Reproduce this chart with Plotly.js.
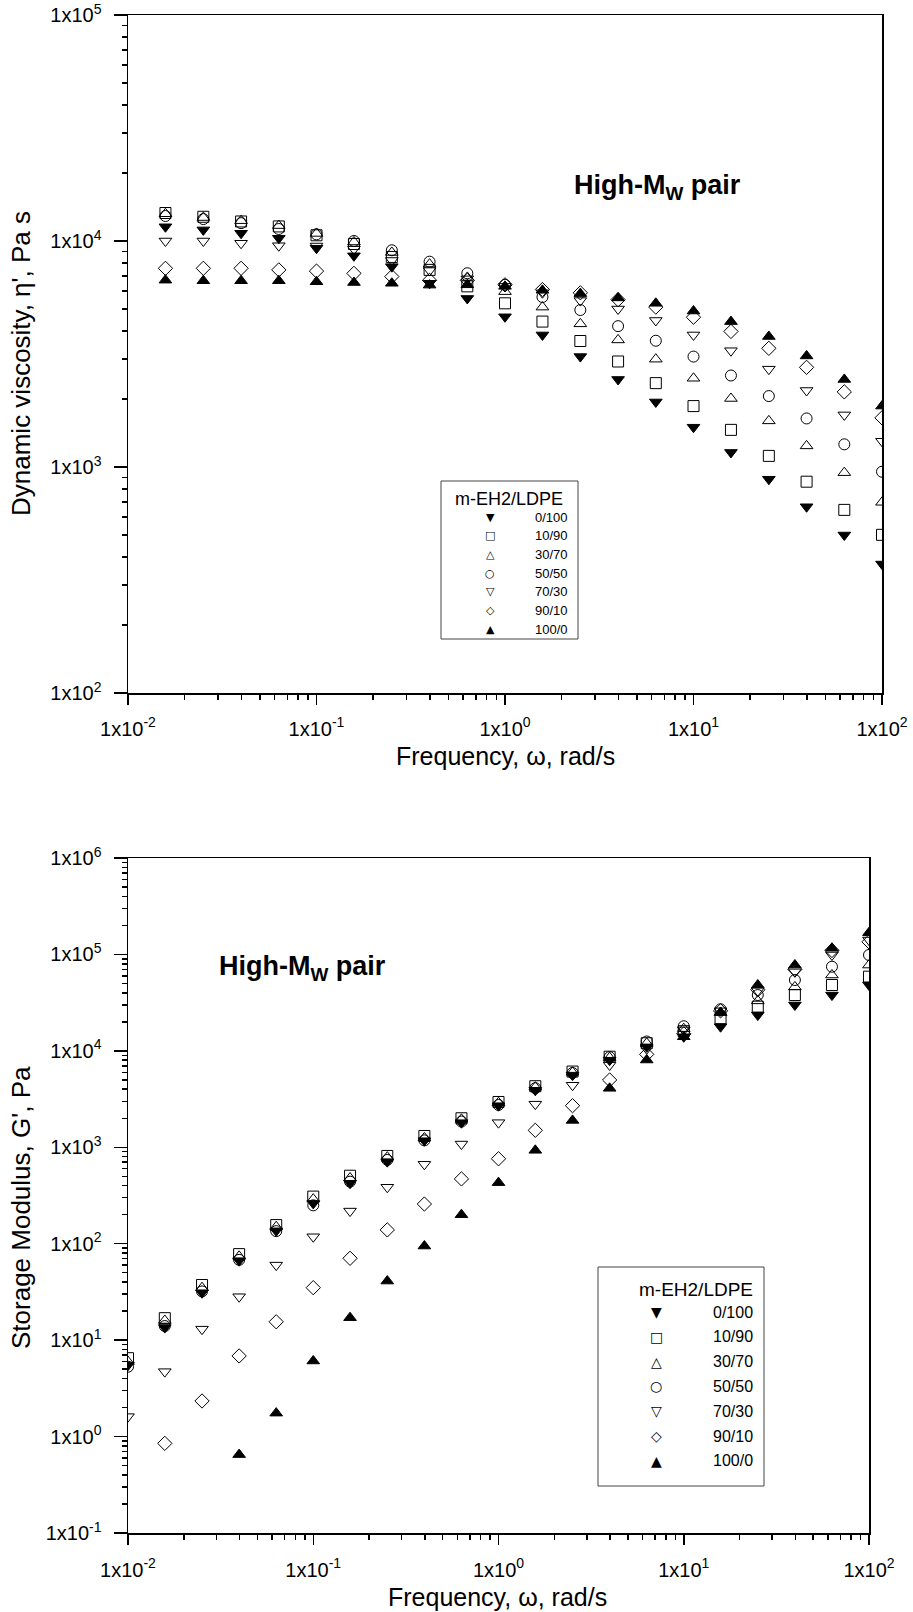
<!DOCTYPE html>
<html>
<head>
<meta charset="utf-8">
<script src="https://cdn.plot.ly/plotly-3.0.1.min.js"></script>
<style>
  html, body { margin: 0; padding: 0; background: #ffffff; }
  #chart { width: 913px; height: 1612px; }
</style>
</head>
<body>
<div id="chart"></div>
<script>
// Angular frequency, rad/s
const freqEta = [0.0158, 0.0251, 0.0398, 0.0631, 0.1, 0.158, 0.251, 0.398, 0.631, 1,
                 1.58, 2.51, 3.98, 6.31, 10, 15.8, 25.1, 39.8, 63.1, 100];
const freqG = [0.01, 0.0158, 0.0251, 0.0398, 0.0631, 0.1, 0.158, 0.251, 0.398, 0.631, 1,
               1.58, 2.51, 3.98, 6.31, 10, 15.8, 25.1, 39.8, 63.1, 100];

// Blend compositions m-EH2/LDPE
const blendNames = ['0/100', '10/90', '30/70', '50/50', '70/30', '90/10', '100/0'];
const blendSymbols = ['triangle-down', 'square-open', 'triangle-up-open', 'circle-open',
                      'triangle-down-open', 'diamond-open', 'triangle-up'];
const blendGlyphs = ['\u25BC', '\u25A1', '\u25B3', '\u25CB', '\u25BD', '\u25C7', '\u25B2'];

// Dynamic viscosity eta', Pa s
const eta_0_100  = [11560, 11200, 10820, 10280, 9290, 8600, 7700, 6500, 5570, 4620, 3840, 3080, 2440, 1940, 1500, 1160, 883, 667, 500, 372];
const eta_10_90  = [13300, 12800, 12200, 11600, 10600, 9700, 8500, 7450, 6300, 5300, 4400, 3610, 2930, 2350, 1860, 1460, 1120, 861, 646, 501];
const eta_30_70  = [13200, 12700, 12300, 11700, 10800, 9900, 8900, 7900, 6900, 5970, 5100, 4300, 3650, 3000, 2470, 2010, 1600, 1240, 944, 698];
const eta_50_50  = [12900, 12500, 12000, 11300, 10700, 10000, 9100, 8100, 7200, 6400, 5650, 4950, 4200, 3620, 3080, 2540, 2060, 1640, 1260, 953];
const eta_70_30  = [10000, 10000, 9770, 9530, 9500, 9200, 8200, 7400, 6800, 6300, 5900, 5450, 5000, 4450, 3840, 3270, 2710, 2180, 1700, 1300];
const eta_90_10  = [7570, 7570, 7570, 7450, 7360, 7190, 6960, 6700, 6700, 6400, 6100, 5900, 5500, 5100, 4600, 3980, 3350, 2760, 2150, 1650];
const eta_100_0  = [6710, 6670, 6670, 6670, 6600, 6550, 6500, 6380, 6400, 6300, 6050, 5850, 5600, 5300, 4900, 4400, 3780, 3100, 2440, 1860];

// Storage modulus G', Pa (null where no point was measured)
const g_0_100  = [5.5, 13.5, 31, 66.7, 136, 262, 424, 710, 1170, 1800, 2700, 3900, 5600, 8000, 11000, 14000, 17800, 23500, 29900, 37900, 48200];
const g_10_90  = [6.5, 16.9, 37.3, 78, 156, 308, 507, 813, 1310, 2000, 2950, 4300, 6100, 8700, 12000, 16000, 21800, 28700, 37900, 48200, 58800];
const g_30_70  = [6.0, 16.0, 35, 74, 150, 290, 480, 790, 1250, 1950, 2900, 4200, 6000, 8500, 12000, 17000, 25000, 33000, 46000, 61200, 77600];
const g_50_50  = [5.3, 14, 32, 68, 135, 250, 440, 740, 1180, 1850, 2750, 4100, 5900, 8600, 12500, 18000, 27000, 37900, 54300, 74600, 98700];
const g_70_30  = [1.61, 4.71, 13, 28.2, 60, 118, 218, 385, 666, 1080, 1800, 2800, 4400, 7130, 10500, 16500, 26000, 42000, 66000, 98700, 141000];
const g_90_10  = [null, 0.85, 2.34, 6.86, 15.5, 35, 70.6, 139, 258, 470, 760, 1500, 2700, 4990, 9200, 15000, 26000, 43000, 70000, 110000, 135000];
const g_100_0  = [null, null, null, 0.65, 1.75, 6.08, 17.1, 41, 94.6, 200, 430, 930, 1900, 4090, 8040, 14000, 25000, 48200, 77700, 116000, 168000];

// Axis tick labels
const freqTicks = [0.01, 0.1, 1, 10, 100];
const freqTickText = ['1x10<sup>-2</sup>', '1x10<sup>-1</sup>', '1x10<sup>0</sup>', '1x10<sup>1</sup>', '1x10<sup>2</sup>'];
const etaTicks = [100, 1000, 10000, 100000];
const etaTickText = ['1x10<sup>2</sup>', '1x10<sup>3</sup>', '1x10<sup>4</sup>', '1x10<sup>5</sup>'];
const gTicks = [0.1, 1, 10, 100, 1000, 10000, 100000, 1000000];
const gTickText = ['1x10<sup>-1</sup>', '1x10<sup>0</sup>', '1x10<sup>1</sup>', '1x10<sup>2</sup>',
                   '1x10<sup>3</sup>', '1x10<sup>4</sup>', '1x10<sup>5</sup>', '1x10<sup>6</sup>'];

const etaSeries = [eta_0_100, eta_10_90, eta_30_70, eta_50_50, eta_70_30, eta_90_10, eta_100_0];
const gSeries = [g_0_100, g_10_90, g_30_70, g_50_50, g_70_30, g_90_10, g_100_0];

// minor ticks at 2..9 of every decade between lo and hi (exponents)
function minorVals(lo, hi) {
  const out = [];
  for (let e = lo; e < hi; e++) {
    for (let m = 2; m <= 9; m++) out.push(m * Math.pow(10, e));
  }
  return out;
}

const W = 913, H = 1612;
const px = v => v / W;
const py = v => 1 - v / H;

const FONT = 'Liberation Sans, Arial, Helvetica, sans-serif';
const GLYPH_FONT = 'DejaVu Sans, sans-serif';

const traces = [];
blendNames.forEach((name, i) => {
  traces.push({
    x: freqEta, y: etaSeries[i], name: name, type: 'scatter', mode: 'markers',
    xaxis: 'x', yaxis: 'y', showlegend: false,
    marker: { symbol: blendSymbols[i], size: 11, color: '#000000', line: { color: '#000000', width: 1 } }
  });
});
blendNames.forEach((name, i) => {
  traces.push({
    x: freqG, y: gSeries[i], name: name, type: 'scatter', mode: 'markers',
    xaxis: 'x2', yaxis: 'y2', showlegend: false,
    marker: { symbol: blendSymbols[i], size: 11, color: '#000000', line: { color: '#000000', width: 1 } }
  });
});

function logAxis(domain, anchor, range, tickvals, ticktext, minor, ticklen, standoff) {
  return {
    domain: domain, anchor: anchor, type: 'log', range: range,
    showline: true, linecolor: '#000000', linewidth: 1.5, mirror: true,
    showgrid: false, zeroline: false,
    ticks: 'outside', ticklen: ticklen, tickwidth: 1.5, tickcolor: '#000000',
    tickmode: 'array', tickvals: tickvals, ticktext: ticktext,
    ticklabelstandoff: standoff,
    tickfont: { family: FONT, size: 20, color: '#000000' },
    minor: { ticks: 'outside', ticklen: 5, tickwidth: 1.5, tickcolor: '#000000',
             tickmode: 'array', tickvals: minor, showgrid: false }
  };
}

// Boxed key listing the blend compositions
function keyBox(box, title, rows, shapes, annotations) {
  shapes.push({ type: 'rect', xref: 'paper', yref: 'paper',
    x0: px(box.left), x1: px(box.right), y0: py(box.bottom), y1: py(box.top),
    line: { color: '#444444', width: 1 }, fillcolor: '#ffffff', layer: 'above' });
  annotations.push({ text: 'm-EH2/LDPE', xref: 'paper', yref: 'paper',
    x: px(title.x), y: py(title.y), xanchor: title.anchor, yanchor: 'middle',
    showarrow: false, font: { family: FONT, size: title.size, color: '#000000' } });
  blendNames.forEach((name, i) => {
    const yy = py(rows.y0 + rows.step * i);
    annotations.push({ text: blendGlyphs[i], xref: 'paper', yref: 'paper',
      x: px(rows.glyphX), y: yy, xanchor: 'center', yanchor: 'middle', showarrow: false,
      font: { family: GLYPH_FONT, size: rows.glyphSize, color: '#000000' } });
    annotations.push({ text: name, xref: 'paper', yref: 'paper',
      x: px(rows.labelRight), y: yy, xanchor: 'right', yanchor: 'middle', showarrow: false,
      font: { family: FONT, size: rows.labelSize, color: '#000000' } });
  });
}

const shapes = [];
const annotations = [
  { text: '<b>High-M<sub>W</sub> pair</b>', xref: 'paper', yref: 'paper', x: px(657), y: py(187),
    xanchor: 'center', yanchor: 'middle', showarrow: false, font: { family: FONT, size: 27 } },
  { text: '<b>High-M<sub>W</sub> pair</b>', xref: 'paper', yref: 'paper', x: px(302), y: py(968),
    xanchor: 'center', yanchor: 'middle', showarrow: false, font: { family: FONT, size: 27 } },
  { text: 'Frequency, \u03c9, rad/s', xref: 'paper', yref: 'paper', x: px(505), y: py(756),
    xanchor: 'center', yanchor: 'middle', showarrow: false, font: { family: FONT, size: 25 } },
  { text: 'Frequency, \u03c9, rad/s', xref: 'paper', yref: 'paper', x: px(498), y: py(1597),
    xanchor: 'center', yanchor: 'middle', showarrow: false, font: { family: FONT, size: 25 } },
  { text: 'Dynamic viscosity, \u03b7\', Pa s', xref: 'paper', yref: 'paper', x: px(21), y: py(364),
    xanchor: 'center', yanchor: 'middle', textangle: -90, showarrow: false, font: { family: FONT, size: 26 } },
  { text: 'Storage Modulus, G\', Pa', xref: 'paper', yref: 'paper', x: px(21), y: py(1208),
    xanchor: 'center', yanchor: 'middle', textangle: -90, showarrow: false, font: { family: FONT, size: 26 } }
];

keyBox({ left: 441, right: 578, top: 481, bottom: 639 },
       { x: 509, y: 499, anchor: 'center', size: 18 },
       { y0: 517.3, step: 18.67, glyphX: 490, glyphSize: 11, labelRight: 570, labelSize: 13 },
       shapes, annotations);
keyBox({ left: 598, right: 764, top: 1267, bottom: 1486 },
       { x: 755, y: 1289, anchor: 'right', size: 19 },
       { y0: 1312, step: 24.8, glyphX: 656, glyphSize: 14, labelRight: 755, labelSize: 16 },
       shapes, annotations);

const layout = {
  width: W, height: H,
  margin: { l: 0, r: 0, t: 0, b: 0 },
  paper_bgcolor: '#ffffff', plot_bgcolor: '#ffffff',
  font: { family: FONT, color: '#000000' },
  showlegend: false,
  xaxis: logAxis([px(128), px(882)], 'y', [-2, 2], freqTicks, freqTickText, minorVals(-2, 2), 10, 7),
  yaxis: logAxis([py(693), py(15)], 'x', [2, 5], etaTicks, etaTickText, minorVals(2, 5), 13, 8),
  xaxis2: logAxis([px(128), px(869)], 'y2', [-2, 2], freqTicks, freqTickText, minorVals(-2, 2), 10, 8),
  yaxis2: logAxis([py(1533), py(858)], 'x2', [-1, 6], gTicks, gTickText, minorVals(-1, 6), 13, 8),
  shapes: shapes,
  annotations: annotations
};

Plotly.newPlot('chart', traces, layout, { staticPlot: true, displayModeBar: false });
</script>
</body>
</html>
